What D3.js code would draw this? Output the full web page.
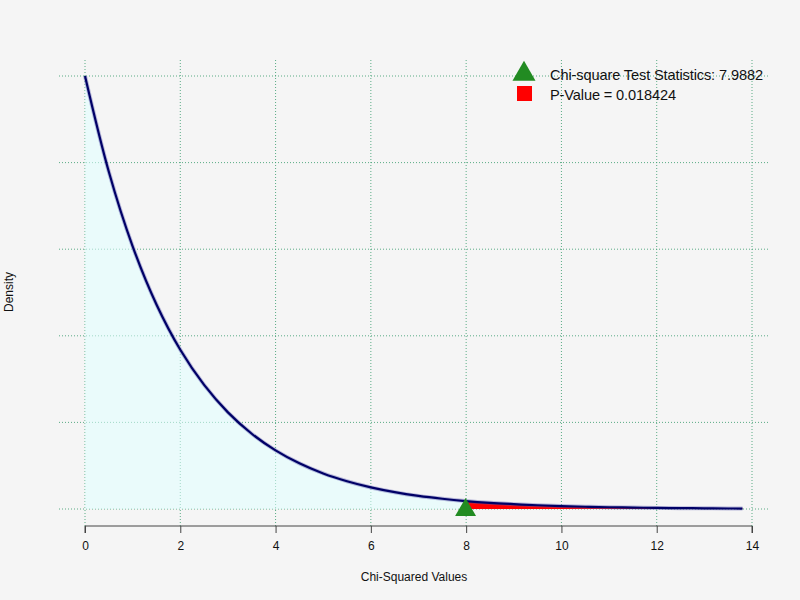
<!DOCTYPE html>
<html><head><meta charset="utf-8">
<script src="https://cdn.jsdelivr.net/npm/d3@7"></script>
<style>
body{margin:0;background:#f5f5f5;}
svg{display:block;font-family:"Liberation Sans",Arial,sans-serif;}
</style></head>
<body><svg id="c" width="800" height="600"></svg>
<script>
// Chi-square density
const xValues = [0,0.5,1,1.5,2,2.5,3,3.5,4,4.5,5,5.5,6,6.5,7,7.5,7.9882,8.5,9,9.5,10,10.5,11,11.5,12,12.5,13,13.5,13.8];
const densityValues = [0.5,0.3894,0.3033,0.2362,0.1839,0.1433,0.1116,0.0869,0.0677,0.0527,0.0410,0.0320,0.0249,0.0194,0.0151,0.0118,0.0092,0.0071,0.0056,0.0043,0.0034,0.0026,0.0020,0.0016,0.0012,0.0010,0.0008,0.0006,0.0005];
const testStatistic = 7.9882;
const pValue = 0.018424;
const xTicks = [0,2,4,6,8,10,12,14];
const yTicks = [0,0.1,0.2,0.3,0.4,0.5];
const legendLabels = ["Chi-square Test Statistics: 7.9882", "P-Value = 0.018424"];

const svg = d3.select("#c");
const x = d3.scaleLinear().domain([0,14]).range([85,752]);
const y = d3.scaleLinear().domain([0,0.5]).range([509,76]);
const data = xValues.map((v,i)=>({x:v,y:densityValues[i]}));

// grid
const gridColor = "#3f9f72";
svg.append("g").selectAll("line").data(yTicks).join("line")
  .attr("x1",59).attr("x2",768).attr("y1",d=>y(d)).attr("y2",d=>y(d))
  .attr("stroke",gridColor).attr("stroke-opacity",0.85).attr("stroke-dasharray","1,2");
svg.append("g").selectAll("line").data(xTicks).join("line")
  .attr("x1",d=>x(d)).attr("x2",d=>x(d)).attr("y1",60).attr("y2",526)
  .attr("stroke",gridColor).attr("stroke-opacity",0.85).attr("stroke-dasharray","1,2");

// fill under curve
const area = d3.area().x(d=>x(d.x)).y0(y(0)).y1(d=>y(d.y)).curve(d3.curveCatmullRom);
svg.append("path").datum(data).attr("d",area).attr("fill","#e0ffff").attr("fill-opacity",0.55);

// p-value region
const tail = data.filter(d=>d.x>=testStatistic);
svg.append("path").datum(tail).attr("d",area).attr("fill","#ff0000");

// curve
const line = d3.line().x(d=>x(d.x)).y(d=>y(d.y)).curve(d3.curveCatmullRom);
svg.append("path").datum(data).attr("d",line).attr("fill","none")
  .attr("stroke","#5a5ab0").attr("stroke-opacity",0.4).attr("stroke-width",4);
svg.append("path").datum(data).attr("d",line).attr("fill","none")
  .attr("stroke","#000066").attr("stroke-width",2.2);

// triangle marker
svg.append("path").attr("d",d3.symbol().type(d3.symbolTriangle).size(190)())
  .attr("transform",`translate(${x(testStatistic)},${y(0)+1})`).attr("fill","#228b22");

// x axis
const xAxis = d3.axisBottom(x).tickValues(xTicks).tickSize(7).tickPadding(8);
const gx = svg.append("g").attr("transform","translate(0,526)").call(xAxis);
gx.select(".domain").attr("stroke","#444").attr("d",`M${x(0)},7V0H${x(14)}V7`);
gx.selectAll(".tick line").attr("stroke","#444");
gx.selectAll("text").attr("font-size",12).attr("fill","#111").attr("font-family","Liberation Sans, Arial, sans-serif");

// axis titles
svg.append("text").attr("x",414).attr("y",581).attr("text-anchor","middle")
  .attr("font-size",12).attr("fill","#111").text("Chi-Squared Values");
svg.append("text").attr("transform","translate(13,292) rotate(-90)").attr("text-anchor","middle")
  .attr("font-size",12).attr("fill","#111").text("Density");

// legend
const lg = svg.append("g");
lg.append("path").attr("d",d3.symbol().type(d3.symbolTriangle).size(230)())
  .attr("transform","translate(524,74)").attr("fill","#228b22");
lg.append("rect").attr("x",517).attr("y",86).attr("width",15).attr("height",15).attr("fill","#ff0000");
const legendWidths = [213,126];
lg.selectAll("text").data(legendLabels).join("text")
  .attr("x",550).attr("y",(d,i)=>80+i*20).attr("font-size",14.6).attr("fill","#111")
  .attr("textLength",(d,i)=>legendWidths[i]).attr("lengthAdjust","spacing").text(d=>d);
</script></body></html>
